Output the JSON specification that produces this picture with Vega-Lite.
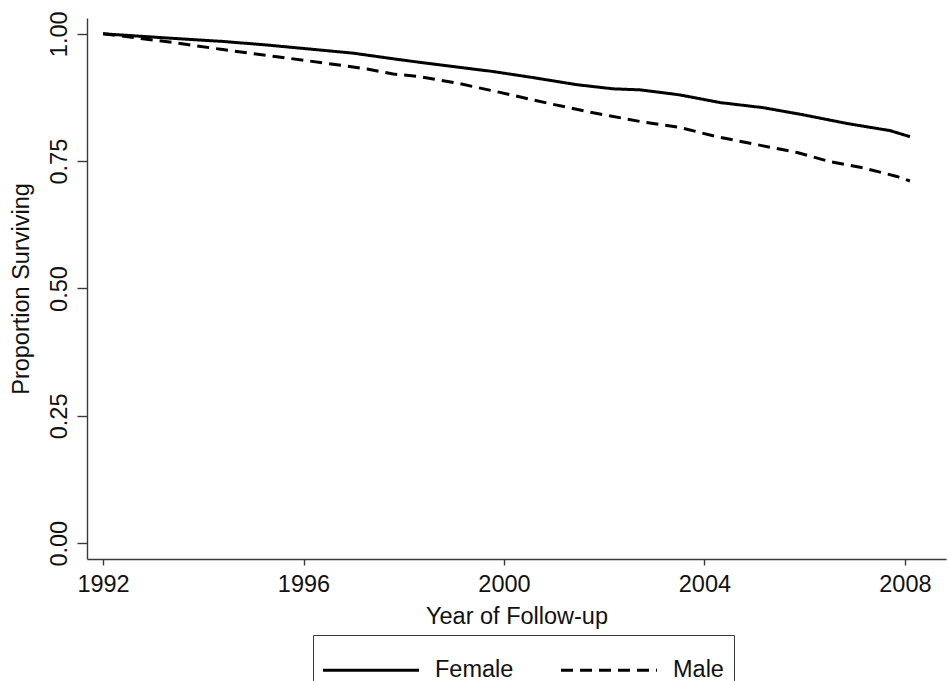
{
  "$schema": "https://vega.github.io/schema/vega-lite/v6.json",
  "width": 859,
  "height": 541,
  "autosize": {"type": "none"},
  "padding": {"left": 87, "top": 18, "right": 2, "bottom": 122},
  "background": "white",
  "config": {
    "font": "Liberation Sans",
    "view": {"stroke": null},
    "axis": {
      "grid": false,
      "domainColor": "#3a3a3a",
      "domainWidth": 1.4,
      "tickColor": "#3a3a3a",
      "tickWidth": 1.4,
      "labelColor": "#111",
      "titleColor": "#111",
      "labelFont": "Liberation Sans",
      "titleFont": "Liberation Sans",
      "labelFontSize": 23.5,
      "titleFontSize": 23.5,
      "titleFontWeight": "normal"
    },
    "legend": {
      "labelFont": "Liberation Sans",
      "labelFontSize": 23.5,
      "labelColor": "#111"
    }
  },
  "data": {
    "values": [
      {"year": 1992.0, "surv": 1.000, "sex": "Female"},
      {"year": 1993.4, "surv": 0.991, "sex": "Female"},
      {"year": 1994.39, "surv": 0.985, "sex": "Female"},
      {"year": 1995.27, "surv": 0.978, "sex": "Female"},
      {"year": 1996.99, "surv": 0.962, "sex": "Female"},
      {"year": 1997.93, "surv": 0.949, "sex": "Female"},
      {"year": 1998.72, "surv": 0.939, "sex": "Female"},
      {"year": 1999.78, "surv": 0.926, "sex": "Female"},
      {"year": 2000.58, "surv": 0.914, "sex": "Female"},
      {"year": 2001.46, "surv": 0.900, "sex": "Female"},
      {"year": 2002.17, "surv": 0.892, "sex": "Female"},
      {"year": 2002.71, "surv": 0.890, "sex": "Female"},
      {"year": 2003.51, "surv": 0.880, "sex": "Female"},
      {"year": 2004.31, "surv": 0.865, "sex": "Female"},
      {"year": 2005.17, "surv": 0.855, "sex": "Female"},
      {"year": 2005.97, "surv": 0.841, "sex": "Female"},
      {"year": 2006.84, "surv": 0.824, "sex": "Female"},
      {"year": 2007.70, "surv": 0.810, "sex": "Female"},
      {"year": 2008.10, "surv": 0.798, "sex": "Female"},
      {"year": 1992.0, "surv": 1.000, "sex": "Male"},
      {"year": 1993.40, "surv": 0.983, "sex": "Male"},
      {"year": 1994.39, "surv": 0.969, "sex": "Male"},
      {"year": 1995.47, "surv": 0.955, "sex": "Male"},
      {"year": 1996.39, "surv": 0.943, "sex": "Male"},
      {"year": 1997.27, "surv": 0.931, "sex": "Male"},
      {"year": 1997.79, "surv": 0.921, "sex": "Male"},
      {"year": 1998.32, "surv": 0.916, "sex": "Male"},
      {"year": 1999.12, "surv": 0.902, "sex": "Male"},
      {"year": 1999.92, "surv": 0.885, "sex": "Male"},
      {"year": 2000.86, "surv": 0.864, "sex": "Male"},
      {"year": 2001.78, "surv": 0.845, "sex": "Male"},
      {"year": 2002.71, "surv": 0.828, "sex": "Male"},
      {"year": 2003.51, "surv": 0.816, "sex": "Male"},
      {"year": 2004.25, "surv": 0.798, "sex": "Male"},
      {"year": 2005.17, "surv": 0.780, "sex": "Male"},
      {"year": 2005.85, "surv": 0.767, "sex": "Male"},
      {"year": 2006.50, "surv": 0.749, "sex": "Male"},
      {"year": 2007.16, "surv": 0.737, "sex": "Male"},
      {"year": 2007.84, "surv": 0.720, "sex": "Male"},
      {"year": 2008.10, "surv": 0.711, "sex": "Male"}
    ]
  },
  "mark": {"type": "line", "color": "black", "strokeWidth": 3, "interpolate": "linear"},
  "encoding": {
    "x": {
      "field": "year",
      "type": "quantitative",
      "scale": {"domain": [1991.68, 2008.82], "nice": false, "zero": false},
      "axis": {
        "title": "Year of Follow-up",
        "values": [1992, 1996, 2000, 2004, 2008],
        "format": "d",
        "tickSize": 6,
        "labelPadding": 7,
        "titlePadding": 9,
        "labelFlush": false
      }
    },
    "y": {
      "field": "surv",
      "type": "quantitative",
      "scale": {"domain": [-0.031, 1.031], "nice": false, "zero": false},
      "axis": {
        "title": "Proportion Surviving",
        "values": [0, 0.25, 0.5, 0.75, 1],
        "format": ".2f",
        "tickSize": 10,
        "labelAngle": -90,
        "labelAlign": "center",
        "labelBaseline": "bottom",
        "labelPadding": 6,
        "titlePadding": 14,
        "labelFlush": false
      }
    },
    "strokeDash": {
      "field": "sex",
      "type": "nominal",
      "scale": {"domain": ["Female", "Male"], "range": [[1, 0], [12, 7]]},
      "legend": {
        "title": null,
        "orient": "none",
        "direction": "horizontal",
        "legendX": 226,
        "legendY": 617,
        "padding": 10,
        "strokeColor": "#3a3a3a",
        "symbolType": "M-1.064,0L3.021,0",
        "symbolSize": 2209,
        "symbolStrokeWidth": 3,
        "symbolStrokeColor": "black",
        "symbolFillColor": "transparent",
        "labelOffset": 62,
        "columnPadding": 40
      }
    }
  }
}
